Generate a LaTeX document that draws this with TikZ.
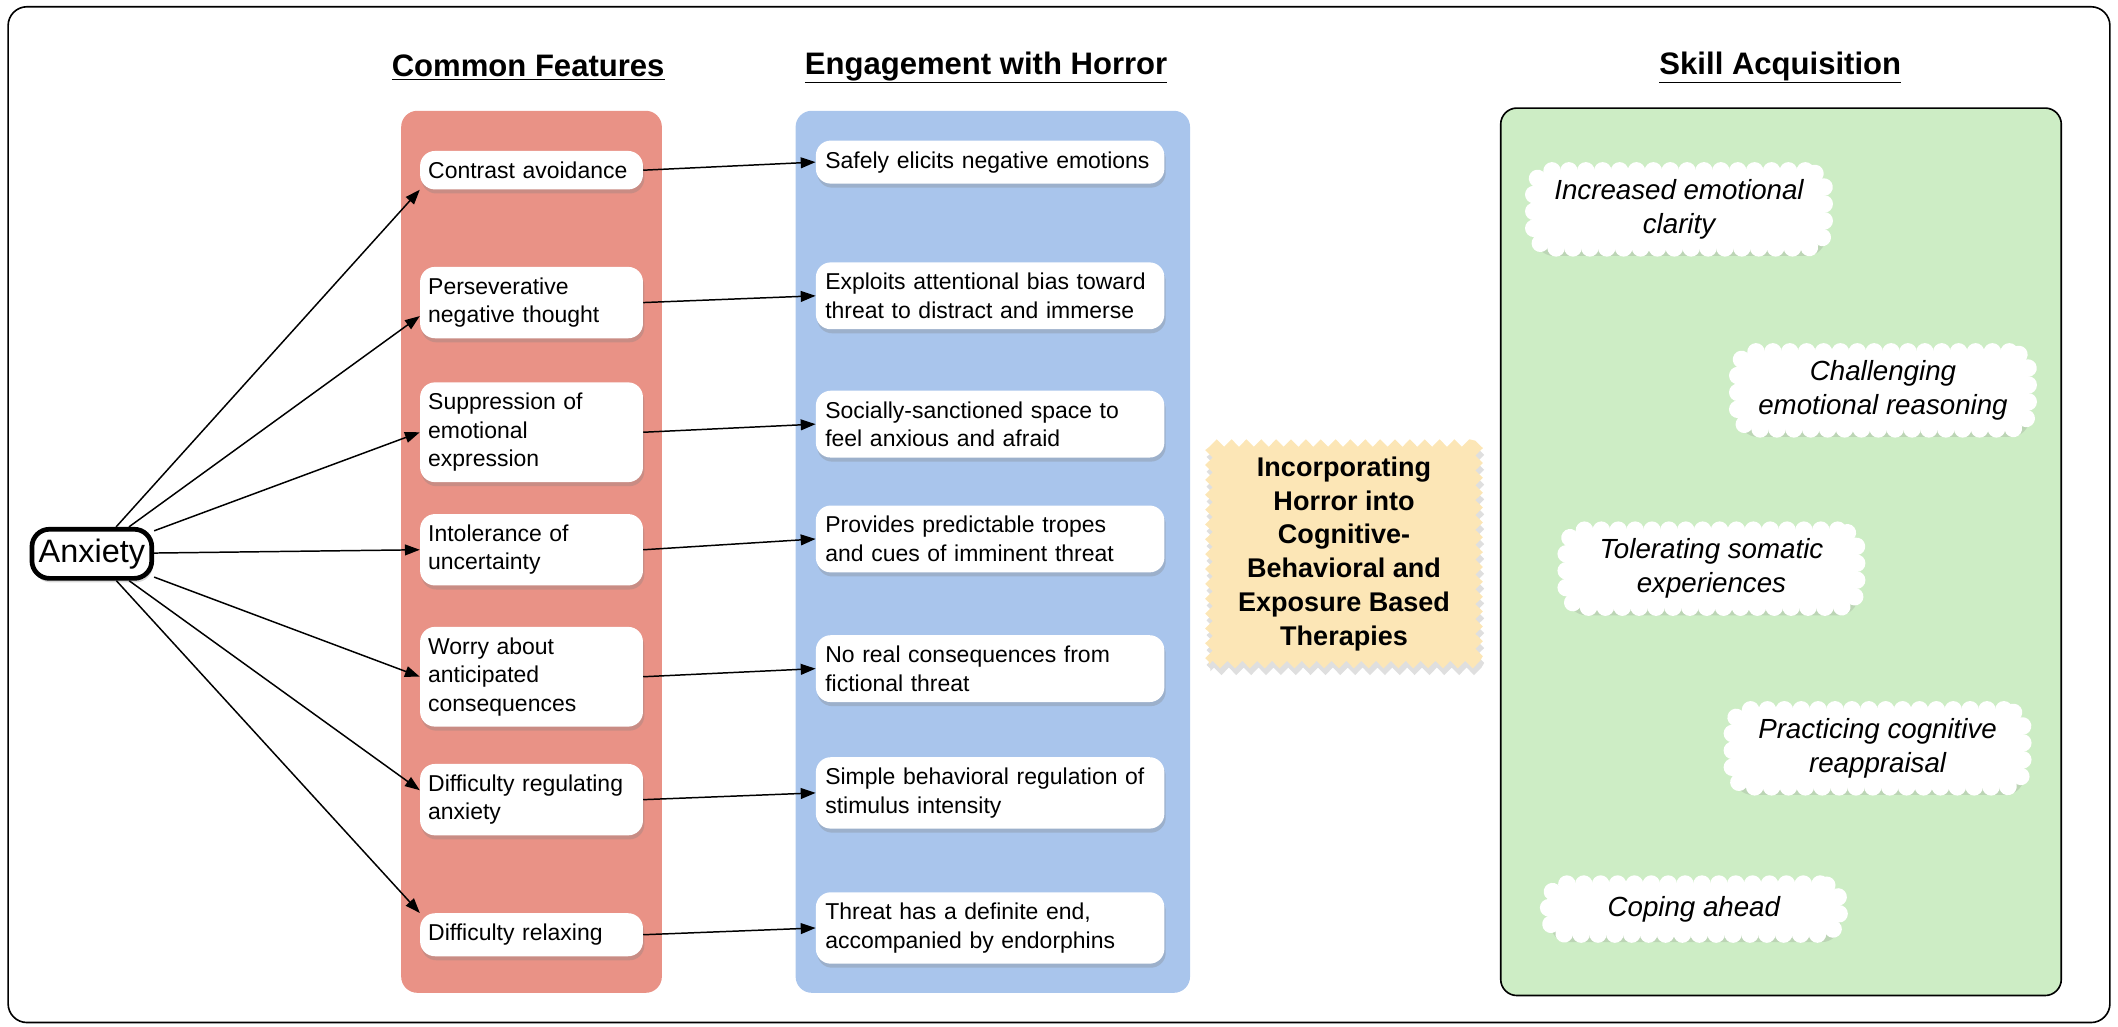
\documentclass[tikz,border=0pt]{standalone}
\definecolor{featred}{RGB}{233, 146, 134}
\definecolor{horrorblue}{RGB}{169, 197, 236}
\definecolor{skillgreen}{RGB}{205, 237, 197}
\definecolor{therapyyellow}{RGB}{252, 230, 182}
\usepackage{fontspec}
\setmainfont{Liberation Sans}
\usepackage{tikz}
\usetikzlibrary{shapes, arrows.meta, positioning, calc, shadows, decorations.pathmorphing, decorations.markings}

\tikzset{
  header/.style={font=\fontsize{23}{28}\selectfont\bfseries},
  featbox/.style={fill=white, rounded corners=11pt, text width=153pt, align=left,
    inner xsep=6pt, inner ysep=8pt, font=\fontsize{17}{21}\selectfont,
    drop shadow={opacity=0.3, shadow xshift=1pt, shadow yshift=-3pt}},
  horrorbox/.style={featbox, text width=244pt, inner xsep=7pt},
  skillcloud/.style={fill=white, rounded corners=14pt,
    minimum width=215pt, minimum height=57pt, inner ysep=3pt, align=center,
    font=\fontsize{20.5}{25}\selectfont\itshape,
    drop shadow={opacity=0.22, shadow xshift=1pt, shadow yshift=-6pt},
    preaction={decorate, decoration={markings,
      mark=between positions 0 and 1 step 12.5pt with {\fill[white] (0,0) circle (6.5pt);}}}},
  arr/.style={-{Triangle[length=11pt, width=8pt]}, line width=1.1pt},
}

\begin{document}
\begin{tikzpicture}[x=1pt, y=-1pt]
  \useasboundingbox (0,0) rectangle (1568,760);
  \draw[line width=1.2pt, rounded corners=14pt] (6,5) rectangle (1562,757);

  % column panels
  \fill[featred, rounded corners=12pt] (297,82) rectangle (490,735);
  \fill[horrorblue, rounded corners=12pt] (589,82) rectangle (881,735);
  \draw[fill=skillgreen, line width=1.2pt, rounded corners=12pt] (1111,80) rectangle (1526,737);

  \node[header] (cfhead) at (391,50) {\underline{Common Features}};
  \node[header] (ehhead) at (730,50) {\underline{Engagement with Horror}};
  \node[header] (skhead) at (1318,50) {\underline{Skill Acquisition}};

  \node[draw, line width=3.5pt, rounded corners=13pt, fill=white, inner xsep=5pt, inner ysep=7pt,
    font=\fontsize{24}{28}\selectfont,
    drop shadow={opacity=0.3, shadow xshift=1pt, shadow yshift=-3pt}] (anx) at (68,410) {Anxiety};

  % common features
  \node[featbox] (cf1) at (393.5,126) {Contrast avoidance};
  \node[featbox] (cf2) at (393.5,224) {Perseverative\\negative thought};
  \node[featbox] (cf3) at (393.5,320) {Suppression of\\emotional\\expression};
  \node[featbox] (cf4) at (393.5,407) {Intolerance of\\uncertainty};
  \node[featbox] (cf5) at (393.5,501) {Worry about\\anticipated\\consequences};
  \node[featbox] (cf6) at (393.5,592) {Difficulty regulating\\anxiety};
  \node[featbox] (cf7) at (393.5,692) {Difficulty relaxing};

  % engagement with horror
  \node[horrorbox] (eh1) at (733,120) {Safely elicits negative emotions};
  \node[horrorbox] (eh2) at (733,219) {Exploits attentional bias toward\\threat to distract and immerse};
  \node[horrorbox] (eh3) at (733,314) {Socially-sanctioned space to\\feel anxious and afraid};
  \node[horrorbox] (eh4) at (733,399) {Provides predictable tropes\\and cues of imminent threat};
  \node[horrorbox] (eh5) at (733,495) {No real consequences from\\fictional threat};
  \node[horrorbox] (eh6) at (733,587) {Simple behavioral regulation of\\stimulus intensity};
  \node[horrorbox] (eh7) at (733,687) {Threat has a definite end,\\accompanied by endorphins};

  \node[fill=therapyyellow, decorate, decoration={zigzag, segment length=11pt, amplitude=2.8pt},
    minimum width=200pt, minimum height=164pt, align=center,
    font=\fontsize{20}{25}\selectfont\bfseries,
    drop shadow={opacity=0.25, shadow xshift=1pt, shadow yshift=-5pt}] (therapy) at (995,410)
    {Incorporating\\Horror into\\Cognitive-\\Behavioral and\\Exposure Based\\Therapies};

  % skill acquisition
  \node[skillcloud] (sk1) at (1243,155) {Increased emotional\\clarity};
  \node[skillcloud] (sk2) at (1394,289) {Challenging\\emotional reasoning};
  \node[skillcloud] (sk3) at (1267,421) {Tolerating somatic\\experiences};
  \node[skillcloud] (sk4) at (1390,554) {Practicing cognitive\\reappraisal};
  \node[skillcloud, minimum height=37pt] (sk5) at (1254,673) {Coping ahead};

  \draw[arr] (anx) -- (cf1.south west);
  \draw[arr] (anx) -- ([yshift=-10pt]cf2.west);
  \draw[arr] (anx) -- (cf3.west);
  \draw[arr] (anx) -- (cf4.west);
  \draw[arr] (anx) -- (cf5.west);
  \draw[arr] (anx) -- ([yshift=7pt]cf6.west);
  \draw[arr] (anx) -- (cf7.north west);

  \foreach \i in {1,...,7}
    \draw[arr] (cf\i.east) -- (eh\i.west);
\end{tikzpicture}
\end{document}
